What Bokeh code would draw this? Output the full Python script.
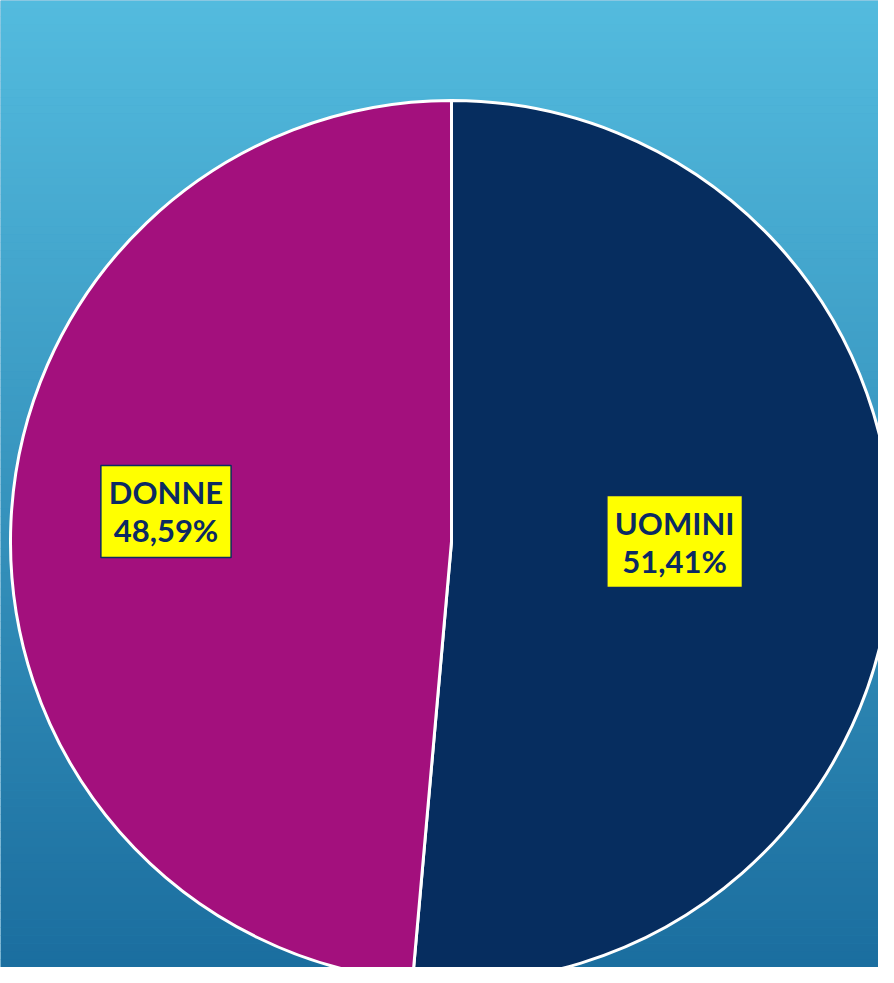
import math
from bokeh.plotting import figure
from bokeh.models import ColumnDataSource, Range1d
from bokeh.core.properties import value
from bokeh.embed import file_html
from bokeh.resources import INLINE

categories = ["UOMINI", "DONNE"]
values = [51.41, 48.59]
value_labels = ["51,41%", "48,59%"]
colors = ["#062D5F", "#A3107D"]
label_angle_deg = [0.0, 174.0]
label_radius_frac = [0.506, 0.651]

W, H = 878, 967
XR, YR = W, H
cx, cy, R = 451, H - 541, 441

p = figure(width=W, height=H, output_backend="svg", toolbar_location=None,
           x_range=Range1d(0, XR), y_range=Range1d(0, YR), min_border=0,
           outline_line_color=None)
p.axis.visible = False
p.grid.visible = False
p.background_fill_color = "#3A9CC7"
p.border_fill_color = "#3A9CC7"

# background gradient (decoration)
n = 120
top = (0x53, 0xBB, 0xDE)
bot = (0x1B, 0x6E, 0x9F)
bl, br, bb, bt, bc = [], [], [], [], []
for i in range(n):
    t = i / (n - 1)
    c = tuple(int(round(top[k] + (bot[k] - top[k]) * t)) for k in range(3))
    bt.append(YR - i * YR / n)
    bb.append(YR - (i + 1) * YR / n - 0.5)
    bl.append(0)
    br.append(XR)
    bc.append("#%02x%02x%02x" % c)
p.quad(left=bl, right=br, bottom=bb, top=bt, fill_color=bc, line_color=None)

total = sum(values)
starts, ends, lx, ly = [], [], [], []
a = math.pi / 2
for v, ang, f in zip(values, label_angle_deg, label_radius_frac):
    span = 2 * math.pi * v / total
    starts.append(a)
    ends.append(a - span)
    la = math.radians(ang)
    lx.append(cx + f * R * math.cos(la))
    ly.append(cy + f * R * math.sin(la))
    a -= span

src = ColumnDataSource(dict(
    start=starts, end=ends, color=colors,
    x=[cx] * len(values), y=[cy] * len(values),
    lx=lx, ly=ly,
    text=[c + "\n" + v for c, v in zip(categories, value_labels)],
))

p.wedge(x="x", y="y", radius=R, start_angle="start", end_angle="end",
        direction="clock", fill_color="color", line_color="white",
        line_width=3, source=src)

p.text(x="lx", y="ly", text="text", source=src,
       text_align="center", text_baseline="middle",
       text_font=value("Lato"), text_font_style="bold",
       text_font_size="31px", text_color="#0B2A63",
       text_line_height=1.0,
       background_fill_color="#FFFF00",
       border_line_color="#0B2A63", border_line_width=1.5,
       padding=8)

open("out.html", "w").write(file_html(p, INLINE))
